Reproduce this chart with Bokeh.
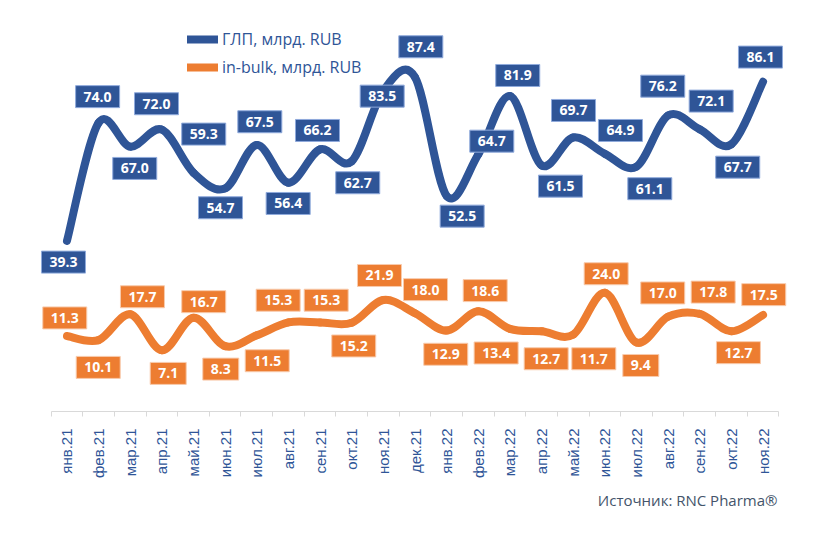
import math
import numpy as np
from bokeh.plotting import figure
from bokeh.models import Range1d, FixedTicker, Legend, LegendItem, Title, ColumnDataSource
from bokeh.embed import file_html
from bokeh.resources import INLINE
from bokeh.core.properties import value

# ---- data ----
months = ["янв.21", "фев.21", "мар.21", "апр.21", "май.21", "июн.21", "июл.21",
          "авг.21", "сен.21", "окт.21", "ноя.21", "дек.21", "янв.22", "фев.22",
          "мар.22", "апр.22", "май.22", "июн.22", "июл.22", "авг.22", "сен.22",
          "окт.22", "ноя.22"]
glp = [39.3, 74.0, 67.0, 72.0, 59.3, 54.7, 67.5, 56.4, 66.2, 62.7, 83.5, 87.4,
       52.5, 64.7, 81.9, 61.5, 69.7, 64.9, 61.1, 76.2, 72.1, 67.7, 86.1]
bulk = [11.3, 10.1, 17.7, 7.1, 16.7, 8.3, 11.5, 15.3, 15.3, 15.2, 21.9, 18.0,
        12.9, 18.6, 13.4, 12.7, 11.7, 24.0, 9.4, 17.0, 17.8, 12.7, 17.5]
series_names = ["ГЛП, млрд. RUB", "in-bulk, млрд. RUB"]
source_note = "Источник: RNC Pharma\u00ae"

# ---- label placement (screen px offsets from the point, style only) ----
glp_dx = [-3.5, -1, 4.5, -5.4, 10.2, -4.7, 3, -0.3, -2.6, 6, -1.2, 5.8, 15.5,
          13.5, 7.8, 18.9, 0.3, 15.6, 13.3, -5.4, 11.4, 6.3, -2.6]
glp_dy = [21.3, -26.2, 21.8, -25.9, -38.7, 19.3, -23.2, 20.8, -18.9, 21.5, 5.6,
          -30.5, 20.2, -13.3, -20.5, 20.8, -27, -23.3, 22, -29.2, -28.2, 22.9, -24.6]
bulk_dx = [-2.2, -0.4, 12.2, 6.3, 10.2, -4.4, 10.4, -10.3, 6.1, 2, -3.9, 10.5,
           -0.9, 6.9, -13.8, 4.6, 20.6, 1.3, 4.3, -5.4, 13.4, 7, 0.7]
bulk_dy = [-18.1, 27.3, -17.5, 23.1, -16, 22.9, 25.4, -22.2, -22.2, 23.2, -24.5,
           -23.6, 23.7, -20.6, 24.1, 27.5, 24.1, -19.1, 23, -23.7, -21.8, 21.4, -20.3]

BLUE = "#2f5597"
ORANGE = "#ed7d31"


def smooth_segments(vals):
    x = np.arange(len(vals), dtype=float)
    y = np.array(vals, dtype=float)
    n = len(vals)
    xp = np.concatenate([[x[0]], x, [x[-1]]])
    yp = np.concatenate([[y[0]], y, [y[-1]]])
    d = dict(
        x0=xp[1:n], y0=yp[1:n], x1=xp[2:n + 1], y1=yp[2:n + 1],
        cx0=xp[1:n] + (xp[2:n + 1] - xp[0:n - 1]) / 6,
        cy0=yp[1:n] + (yp[2:n + 1] - yp[0:n - 1]) / 6,
        cx1=xp[2:n + 1] - (xp[3:n + 2] - xp[1:n]) / 6,
        cy1=yp[2:n + 1] - (yp[3:n + 2] - yp[1:n]) / 6,
    )
    return ColumnDataSource(d)


n = len(months)
p = figure(width=815, height=532, output_backend="svg", toolbar_location=None,
           x_range=Range1d(-0.9, 22.804), y_range=Range1d(-10.9, 107.04),
           y_axis_location=None, min_border_left=38, min_border_right=27,
           min_border_top=10, min_border_bottom=121)
p.outline_line_color = None
p.xgrid.visible = False
p.ygrid.visible = False
p.background_fill_color = "white"

ax = p.xaxis[0]
ax.bounds = (-0.5, n - 0.5)
ax.ticker = FixedTicker(ticks=list(range(n)),
                        minor_ticks=[i - 0.5 for i in range(n + 1)])
ax.major_label_overrides = {i: m for i, m in enumerate(months)}
ax.major_label_orientation = math.pi / 2
ax.major_tick_line_color = None
ax.major_tick_out = 0
ax.major_tick_in = 0
ax.minor_tick_line_color = "#d9d9d9"
ax.minor_tick_out = 5
ax.minor_tick_in = 0
ax.axis_line_color = "#d9d9d9"
ax.major_label_standoff = 12
ax.major_label_text_font = "Liberation Sans"
ax.major_label_text_font_size = "15px"
ax.major_label_text_color = BLUE

renderers = []
for vals, col in ((glp, BLUE), (bulk, ORANGE)):
    r = p.bezier(x0="x0", y0="y0", x1="x1", y1="y1", cx0="cx0", cy0="cy0",
                 cx1="cx1", cy1="cy1", source=smooth_segments(vals),
                 line_color=col, line_width=8, line_cap="round")
    renderers.append(r)

for vals, dx, dy, col, border in ((glp, glp_dx, glp_dy, BLUE, "#8faadc"),
                                  (bulk, bulk_dx, bulk_dy, ORANGE, "#f8cbad")):
    src = ColumnDataSource(dict(x=list(range(len(vals))), y=vals,
                                t=["%.1f" % v for v in vals], dx=dx, dy=dy))
    p.text(x="x", y="y", text="t", x_offset="dx", y_offset="dy", source=src,
           text_color="white", text_font=value("Open Sans"), text_font_style="bold",
           text_font_size="14px", text_align="center", text_baseline="middle",
           background_fill_color=col, border_line_color=border, border_line_width=1,
           padding=dict(left=8, right=8, top=6, bottom=6))

legend = Legend(items=[LegendItem(label=series_names[0], renderers=[renderers[0]]),
                       LegendItem(label=series_names[1], renderers=[renderers[1]])],
                location=(149, 330), orientation="vertical", border_line_color=None,
                background_fill_alpha=0, padding=0, margin=0, spacing=0,
                glyph_width=31, glyph_height=28, label_height=28, label_standoff=4,
                label_text_font="Open Sans", label_text_font_size="16px",
                label_text_color=BLUE)
p.add_layout(legend)

p.add_layout(Title(text=source_note, align="right", offset=11, standoff=13,
                   text_font="Open Sans", text_font_style="normal",
                   text_font_size="15px", text_color="#44546a"), "below")

open("out.html", "w").write(file_html(p, INLINE))
